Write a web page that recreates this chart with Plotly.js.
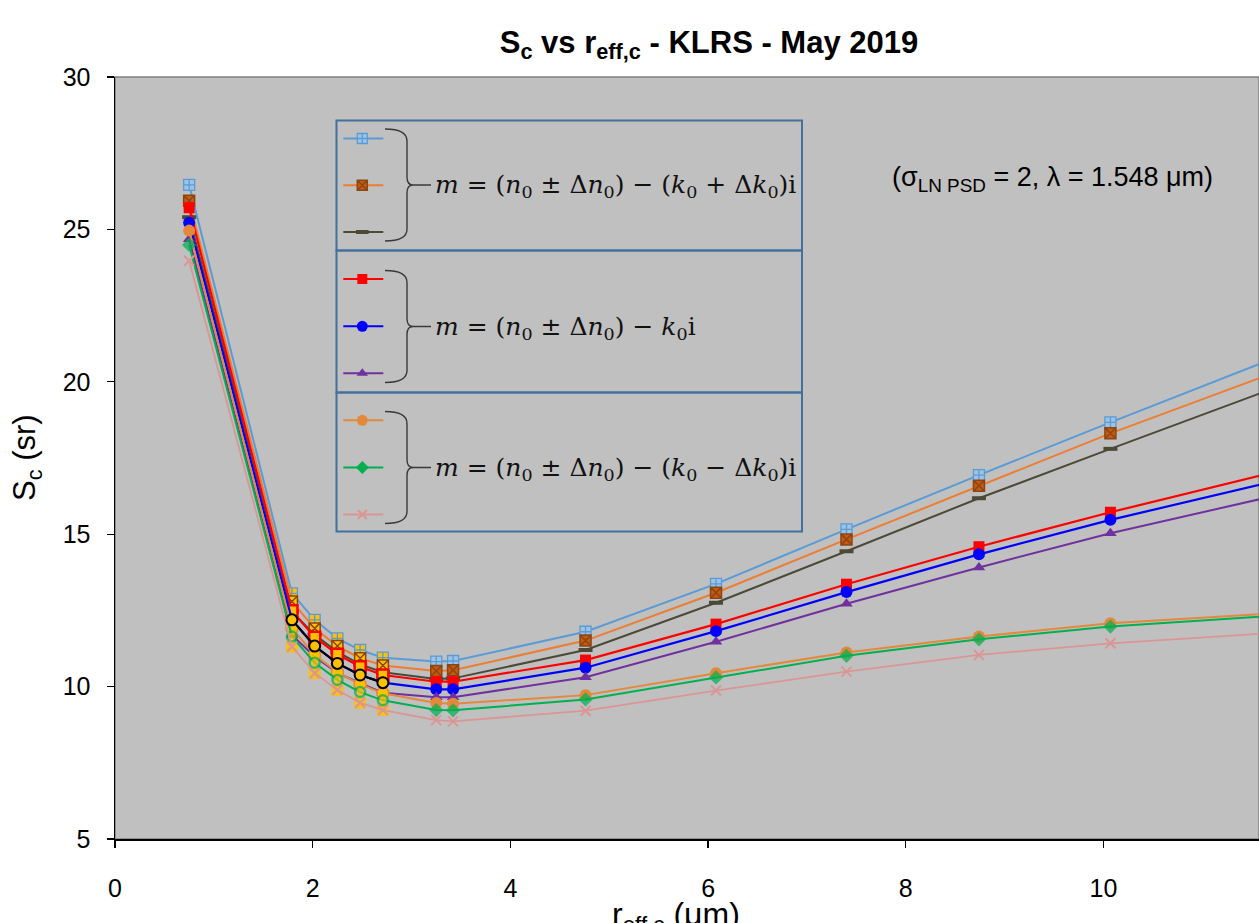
<!DOCTYPE html>
<html><head><meta charset="utf-8">
<script src="https://cdn.plot.ly/plotly-3.0.1.min.js"></script>
<style>html,body{margin:0;padding:0;background:#fff;}#chart{width:1259px;height:923px;}</style>
</head><body><div id="chart"></div>
<script>
// ---- data ----
const rEff = [0.75, 1.79, 2.02, 2.25, 2.48, 2.71, 3.25, 3.42, 4.76, 6.08, 7.40, 8.74, 10.07, 12.73];
const sPlusN_kPlus  = [26.46, 13.06, 12.19, 11.58, 11.20, 10.95, 10.82, 10.84, 11.80, 13.37, 15.16, 16.94, 18.67, 22.05];
const sMinusN_kPlus = [25.94, 12.79, 11.91, 11.33, 10.93, 10.69, 10.51, 10.54, 11.51, 13.08, 14.83, 16.59, 18.31, 21.51];
const sN_kPlus      = [25.40, 12.45, 11.70, 11.14, 10.73, 10.47, 10.25, 10.27, 11.20, 12.75, 14.44, 16.18, 17.80, 21.00];
const sPlusN_k      = [25.71, 12.49, 11.62, 11.06, 10.65, 10.38, 10.16, 10.16, 10.87, 12.05, 13.36, 14.59, 15.72, 17.83];
const sN_k          = [25.22, 12.19, 11.33, 10.76, 10.38, 10.13, 9.91, 9.91, 10.62, 11.82, 13.10, 14.34, 15.47, 17.50];
const sMinusN_k     = [24.68, 11.69, 10.98, 10.45, 10.11, 9.80, 9.65, 9.65, 10.31, 11.47, 12.72, 13.91, 15.03, 17.00];
const sPlusN_kMinus = [24.96, 11.91, 11.04, 10.47, 10.08, 9.78, 9.46, 9.44, 9.72, 10.44, 11.12, 11.64, 12.08, 12.60];
const sN_kMinus     = [24.49, 11.64, 10.78, 10.22, 9.82, 9.55, 9.23, 9.22, 9.58, 10.30, 11.01, 11.55, 11.97, 12.54];
const sMinusN_kMinus= [23.97, 11.31, 10.44, 9.89, 9.47, 9.23, 8.90, 8.86, 9.21, 9.87, 10.49, 11.04, 11.42, 11.97];
const seriesNames = ['n0+Δn0, k0+Δk0','n0−Δn0, k0+Δk0','n0, k0+Δk0','n0+Δn0, k0','n0, k0','n0−Δn0, k0','n0+Δn0, k0−Δk0','n0, k0−Δk0','n0−Δn0, k0−Δk0'];
const highlighted = [1, 2, 3, 4, 5]; // points formatted with gold markers
const xTicks = [0, 2, 4, 6, 8, 10];
const yTicks = [5, 10, 15, 20, 25, 30];
const titleText = '<b>S<sub>c</sub> vs r<sub>eff,c</sub> - KLRS - May 2019</b>';
const noteText = '(σ<sub>LN PSD</sub> = 2, λ = 1.548 μm)';
const eqTexts = [
  '<i>m</i> = (<i>n</i><sub>0</sub> ± Δ<i>n</i><sub>0</sub>) − (<i>k</i><sub>0</sub> + Δ<i>k</i><sub>0</sub>)i',
  '<i>m</i> = (<i>n</i><sub>0</sub> ± Δ<i>n</i><sub>0</sub>) − <i>k</i><sub>0</sub>i',
  '<i>m</i> = (<i>n</i><sub>0</sub> ± Δ<i>n</i><sub>0</sub>) − (<i>k</i><sub>0</sub> − Δ<i>k</i><sub>0</sub>)i'
];

// ---- styles ----
const GOLD = '#FFC000';
const isHi = i => highlighted.includes(i);
const n = rEff.length;
const arr = f => Array.from({length:n}, (_, i) => f(i));

const allY = [sPlusN_kPlus, sMinusN_kPlus, sN_kPlus, sPlusN_k, sN_k, sMinusN_k, sPlusN_kMinus, sN_kMinus, sMinusN_kMinus];
const lineStyles = [
  {color:'#5B9BD5', width:2},
  {color:'#ED7D31', width:2},
  {color:'#4B4A36', width:2},
  {color:'#FF0000', width:2.2},
  {color:'#0000FF', width:2.2},
  {color:'#7030A0', width:2},
  {color:'#E2893B', width:2},
  {color:'#00B050', width:2},
  {color:'#DA9694', width:1.8}
];
const baseMarkers = [
  {symbol:'square-cross', size:11, color:'#9DC3E6', line:{color:'#5B9BD5', width:1.3}},
  {symbol:'square-x', size:11, color:'#C55A11', line:{color:'#8B4513', width:1.5}},
  {symbol:'line-ew', size:10, color:'#4B4A36', line:{color:'#4B4A36', width:4}},
  {symbol:'square', size:11, color:'#FF0000', line:{color:'#FF0000', width:0}},
  {symbol:'circle', size:12, color:'#0000FF', line:{color:'#0000FF', width:0}},
  {symbol:'triangle-up', size:11, color:'#7030A0', line:{color:'#7030A0', width:0}},
  {symbol:'circle', size:12, color:'#E2893B', line:{color:'#E2893B', width:0}},
  {symbol:'diamond', size:11, color:'#00B050', line:{color:'#00B050', width:0}},
  {symbol:'x-thin', size:10, color:'#DA9694', line:{color:'#DA9694', width:2}}
];
function dataMarker(k){
  const b = baseMarkers[k];
  const m = {symbol:b.symbol, size:b.size, color:b.color, line:{color:b.line.color, width:b.line.width}};
  if (k===0 || k===1) { m.color = arr(i => isHi(i) ? GOLD : b.color); }
  if (k===3) { m.color = arr(i => isHi(i) ? GOLD : b.color); m.line.width = arr(i => isHi(i) ? 2.5 : 0); }
  if (k===6) { m.color = arr(i => isHi(i) ? GOLD : b.color); m.line.width = arr(i => isHi(i) ? 1.5 : 0); }
  if (k===7) { m.symbol = arr(i => isHi(i) ? 'circle' : b.symbol); m.color = arr(i => isHi(i) ? GOLD : b.color);
               m.line.width = arr(i => isHi(i) ? 2.5 : 0); m.size = arr(i => isHi(i) ? 10 : b.size); }
  return m;
}

const traces = [];
// gold backgrounds for the pink series' highlighted points
traces.push({x: highlighted.map(i => rEff[i]), y: highlighted.map(i => sMinusN_kMinus[i]), mode:'markers',
  marker:{symbol:'square', size:12, color:GOLD, opacity:0.85}, showlegend:false, hoverinfo:'skip'});
allY.forEach((ys, k) => {
  traces.push({x: rEff, y: ys, name: seriesNames[k], mode:'lines+markers', line: lineStyles[k],
    marker: dataMarker(k), showlegend:false, cliponaxis:true});
});
// black-line, gold-circle formatting of the (n0, k0) series
traces.push({x: highlighted.map(i => rEff[i]), y: highlighted.map(i => sN_k[i]), mode:'lines+markers',
  line:{color:'#000000', width:2.2}, marker:{symbol:'circle', size:11, color:GOLD, line:{color:'#000000', width:2}},
  showlegend:false});

// ---- custom legend (pixel coordinate overlay axes) ----
const PX = {left:115, right:1259, top:77, bottom:839};
const legendRowsY = [138.5, 185.3, 232, 279, 326.3, 373.3, 420.3, 467.5, 514.5];
const glyphX = [343.3, 362.3, 383.3];
legendRowsY.forEach((gy, k) => {
  const b = baseMarkers[k];
  traces.push({x: glyphX, y: [gy, gy, gy], xaxis:'x2', yaxis:'y2', mode:'lines+markers',
    line:{color: lineStyles[k].color, width: 2},
    marker:{symbol:b.symbol, size:b.size - 1, color:b.color, line:b.line, opacity:[0,1,0]},
    showlegend:false, hoverinfo:'skip'});
});

const boxes = [[120.5, 250.5], [250.5, 392.5], [392.5, 531.5]];
const shapes = [
  {type:'rect', xref:'paper', yref:'paper', x0:0, x1:1, y0:0, y1:1, line:{color:'#808080', width:1.5}, layer:'below'}
];
boxes.forEach(([t, bt]) => shapes.push({type:'rect', xref:'x2', yref:'y2', x0:336.5, x1:802, y0:bt, y1:t,
  line:{color:'#41719C', width:2}, fillcolor:'rgba(0,0,0,0)'}));
const braceMid = [185, 326.5, 467.5];
braceMid.forEach(ym => {
  const t = ym - 56, b = ym + 56;
  shapes.push({type:'path', xref:'x2', yref:'y2',
    path:`M 385 ${t} Q 407 ${t} 407 ${t+12} L 407 ${ym-8} Q 407 ${ym} 413 ${ym} L 431 ${ym} M 413 ${ym} Q 407 ${ym} 407 ${ym+8} L 407 ${b-12} Q 407 ${b} 385 ${b}`,
    line:{color:'#3A3A3A', width:1.4}});
});

const annotations = [];
eqTexts.forEach((t, k) => annotations.push({xref:'x2', yref:'y2', x:433, y:braceMid[k] + 1, xanchor:'left', yanchor:'middle',
  text:t, showarrow:false, font:{family:'DejaVu Serif', size:25, color:'#111'}}));
annotations.push({xref:'x2', yref:'y2', x:1052, y:179, xanchor:'center', yanchor:'middle', text:noteText, showarrow:false,
  font:{family:'Liberation Sans, Arial', size:27, color:'#000'}});
// axis titles
annotations.push({xref:'paper', yref:'paper', x:(27 - PX.left)/(PX.right - PX.left), y:(PX.bottom - 458)/(PX.bottom - PX.top),
  xanchor:'center', yanchor:'middle', textangle:-90, text:'S<sub>c</sub> (sr)', showarrow:false,
  font:{family:'Liberation Sans, Arial', size:31, color:'#000'}});
annotations.push({xref:'paper', yref:'paper', x:(676 - PX.left)/(PX.right - PX.left), y:-(894 - PX.bottom)/(PX.bottom - PX.top),
  xanchor:'center', yanchor:'top', text:'r<sub>eff,c</sub> (μm)', showarrow:false,
  font:{family:'Liberation Sans, Arial', size:32, color:'#000'}});

const pxPerUnit = (1104 - 115.5) / 10;
const xMax = (PX.right - PX.left) / pxPerUnit;

const layout = {
  width:1259, height:923,
  margin:{l:PX.left, r:0, t:PX.top, b:923 - PX.bottom, pad:0},
  paper_bgcolor:'#FFFFFF', plot_bgcolor:'#C0C0C0',
  title:{text:titleText, x:709/1259, xanchor:'center', xref:'container', y:1 - 42/923, yanchor:'middle', yref:'container',
    font:{family:'Liberation Sans, Arial', size:31, color:'#000'}},
  showlegend:false,
  xaxis:{range:[0, xMax], tickvals:xTicks, ticktext:xTicks.map(String), showgrid:false, zeroline:false,
    showline:true, linecolor:'#000', linewidth:2, ticks:'outside', ticklen:7, tickwidth:1.2, tickcolor:'#000',
    tickfont:{family:'Liberation Sans, Arial', size:25, color:'#000'}, ticklabelstandoff:19},
  yaxis:{range:[5, 30], tickvals:yTicks, ticktext:yTicks.map(String), showgrid:false, zeroline:false,
    showline:true, linecolor:'#000', linewidth:1.5, ticks:'outside', ticklen:7, tickwidth:1.2, tickcolor:'#000',
    tickfont:{family:'Liberation Sans, Arial', size:25, color:'#000'}, ticklabelstandoff:11},
  xaxis2:{overlaying:'x', anchor:'y2', range:[PX.left, PX.right], visible:false, fixedrange:true},
  yaxis2:{overlaying:'y', anchor:'x2', range:[PX.bottom, PX.top], visible:false, fixedrange:true},
  shapes:shapes, annotations:annotations
};
Plotly.newPlot('chart', traces, layout, {staticPlot:true, displayModeBar:false});
</script></body></html>
